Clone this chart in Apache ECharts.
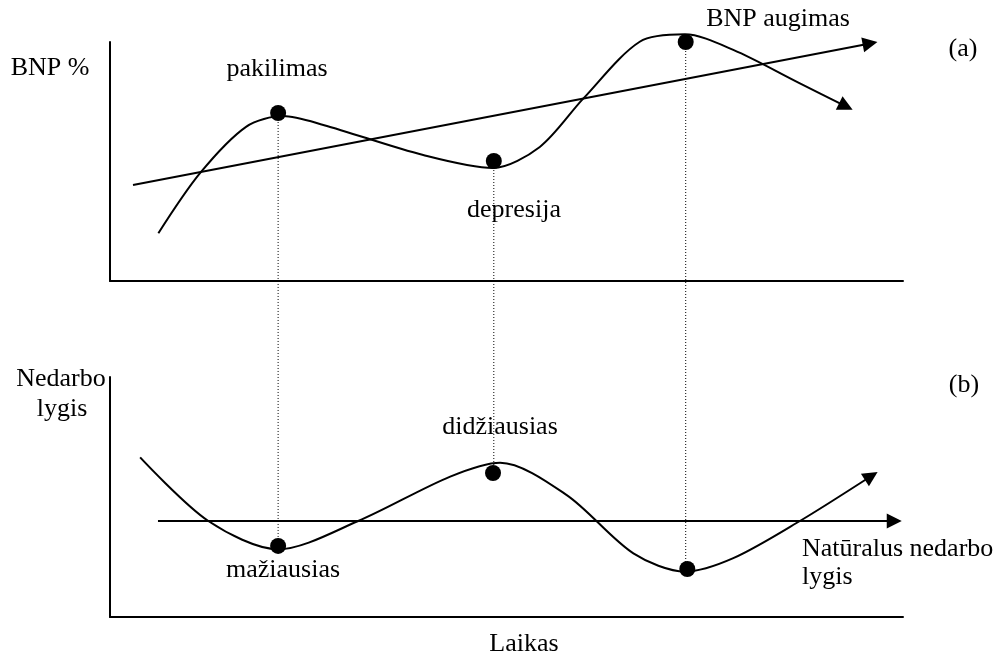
<!DOCTYPE html>
<html>
<head>
<meta charset="utf-8">
<script src="https://cdn.jsdelivr.net/npm/echarts@6/dist/echarts.min.js"></script>
<style>
  html, body { margin: 0; padding: 0; background: #fff; }
  #chart { width: 1001px; height: 657px; }
</style>
</head>
<body>
<div id="chart"></div>
<script>
// both panels use 0..100 "time" on x and 0..100 on y
// (a) GDP cycle, last point = arrow head
const gnpCurve = [
  [6.1, 20.0], [11.35, 45.1], [17.2, 64.6], [21.8, 69.0], [26.9, 65.3],
  [39.5, 52.7], [48.3, 47.3], [54.2, 56.1], [59.7, 76.4], [66.8, 100.1],
  [72.5, 103.2], [78.6, 96.7], [87.0, 82.7], [92.8, 73.1]
]
const gnpTrend = [[2.9, 40.2], [95.85, 99.4]]
const gnpPoints = [[21.2, 70.3], [48.4, 50.2], [72.6, 100]]

// (b) unemployment
const unempCurve = [
  [3.8, 66.5], [12.4, 40.0], [21.2, 28.2], [31.3, 40.0],
  [42.9, 58.5], [49.2, 64.3], [57.6, 50.8], [66.0, 26.5], [72.5, 18.9],
  [78.6, 24.5], [87.0, 40.0], [96.0, 58.75]
]
const naturalRate = [[6.05, 40], [98.9, 40]]
const unempPoints = [[21.2, 29.6], [48.3, 60.0], [72.8, 20.0]]

// dotted guides, in panel (a) units, running down into panel (b)
const guideLines = [
  [[21.2, 70.3], [21.2, -110.9]],
  [[48.4, 50.2], [48.4, -80.3]],
  [[72.6, 100], [72.6, -120.5]]
]

const FONT = '26px "Liberation Serif", "Times New Roman", serif'
const black = '#000'

function arrowLine(name, data, axis) {
  const n = data.length
  return {
    name: name,
    type: 'line',
    xAxisIndex: axis,
    yAxisIndex: axis,
    data: data,
    smooth: data.length > 2 ? 0.3 : false,
    showSymbol: false,
    symbol: 'none',
    clip: false,
    lineStyle: { color: black, width: 2 },
    // only the arrow head, pointing along the last segment
    markLine: {
      silent: true,
      symbol: ['none', 'triangle'],
      symbolSize: 15,
      label: { show: false },
      lineStyle: { color: black, width: 0, type: 'solid' },
      data: [[{ coord: data[n - 2] }, { coord: data[n - 1] }]]
    }
  }
}

function dots(data, axis) {
  return {
    type: 'scatter',
    xAxisIndex: axis,
    yAxisIndex: axis,
    data: data,
    symbolSize: 16,
    clip: false,
    itemStyle: { color: black, opacity: 1 }
  }
}

function axisBase(grid) {
  return {
    type: 'value',
    gridIndex: grid,
    min: 0,
    max: 100,
    axisLine: { show: true, onZero: false, lineStyle: { color: black, width: 2 } },
    axisTick: { show: false },
    axisLabel: { show: false },
    splitLine: { show: false }
  }
}

function txt(text, x, y, align) {
  return {
    type: 'text',
    x: x,
    y: y,
    style: {
      text: text,
      font: FONT,
      fill: black,
      textAlign: align || 'center',
      textVerticalAlign: 'middle'
    }
  }
}

const chart = echarts.init(document.getElementById('chart'))
chart.setOption({
  animation: false,
  backgroundColor: '#fff',
  grid: [
    { left: 110, top: 42, width: 793, height: 239 },
    { left: 110, top: 377, width: 793, height: 240 }
  ],
  xAxis: [axisBase(0), axisBase(1)],
  yAxis: [axisBase(0), axisBase(1)],
  series: [
    ...guideLines.map(function (g) {
      return {
        type: 'line',
        data: g,
        symbol: 'none',
        clip: false,
        lineStyle: { color: black, width: 1, type: [1, 2] }
      }
    }),
    arrowLine('BNP', gnpCurve, 0),
    arrowLine('BNP augimas', gnpTrend, 0),
    arrowLine('Nedarbo lygis', unempCurve, 1),
    arrowLine('Natūralus nedarbo lygis', naturalRate, 1),
    dots(gnpPoints, 0),
    dots(unempPoints, 1)
  ],
  graphic: [
    txt('BNP %', 50, 68),
    txt('pakilimas', 277, 69),
    txt('depresija', 514, 210),
    txt('BNP augimas', 778, 19),
    txt('(a)', 963, 49),
    txt('Nedarbo', 61, 379),
    txt('lygis', 62, 409),
    txt('didžiausias', 500, 427),
    txt('mažiausias', 283, 570),
    txt('(b)', 964, 385),
    txt('Natūralus nedarbo', 802, 549, 'left'),
    txt('lygis', 802, 577, 'left'),
    txt('Laikas', 524, 644)
  ]
})
</script>
</body>
</html>
